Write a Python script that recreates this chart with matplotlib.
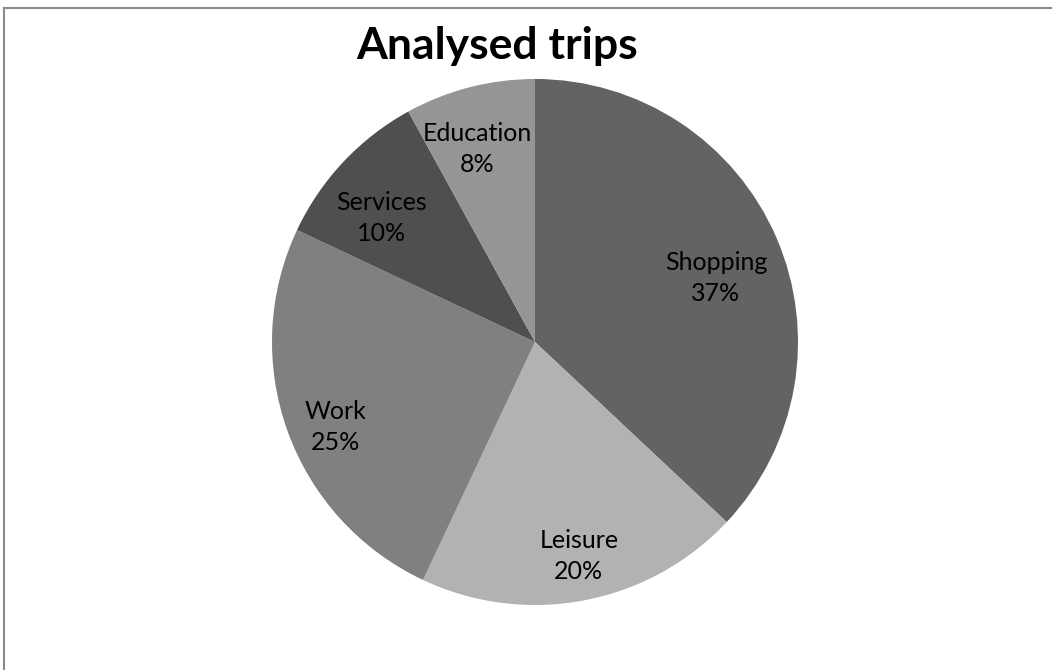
import matplotlib.pyplot as plt
from matplotlib.patches import Rectangle
import numpy as np

labels = ["Shopping", "Leisure", "Work", "Services", "Education"]
shares = [37, 20, 25, 10, 8]
colors = ["#636363", "#b2b2b2", "#808080", "#4f4f4f", "#959595"]
# label placement: fraction of radius and angle nudge (deg) from the slice middle
label_r = [0.73, 0.83, 0.825, 0.75, 0.766]
label_dang = [-3.9, 0.8, 3.2, 4.2, 2.3]

plt.rcParams['font.family'] = ['Lato', 'DejaVu Sans']

W, H = 1052, 670
fig = plt.figure(figsize=(W / 100, H / 100), dpi=100)
ax = fig.add_axes([0, 0, 1, 1])

# frame (cut off at right and bottom like the screenshot)
ax.add_patch(Rectangle((4, -100), 1200, H - 8 + 100, fill=False,
                       edgecolor="#8a8a8a", lw=1.5))

cx, cy, r = 535, H - 342, 263
wedges, texts = ax.pie(shares, colors=colors, startangle=90, counterclock=False,
                       center=(cx, cy), radius=r,
                       wedgeprops=dict(linewidth=0), frame=True)
ax.set_xlim(0, W)
ax.set_ylim(0, H)
ax.set_aspect('equal')
ax.axis('off')

for w, name, val, k, da in zip(wedges, labels, shares, label_r, label_dang):
    ang = np.deg2rad((w.theta1 + w.theta2) / 2 + da)
    x = cx + k * r * np.cos(ang)
    y = cy + k * r * np.sin(ang)
    ax.text(x, y, f"{name}\n{val}%", ha="center", va="center",
            fontsize=18, linespacing=1.45, color="black")

ax.text(497, H - 46, "Analysed trips", ha="center", va="center",
        fontsize=32, fontweight="bold")

fig.savefig("out.png", dpi=100)
